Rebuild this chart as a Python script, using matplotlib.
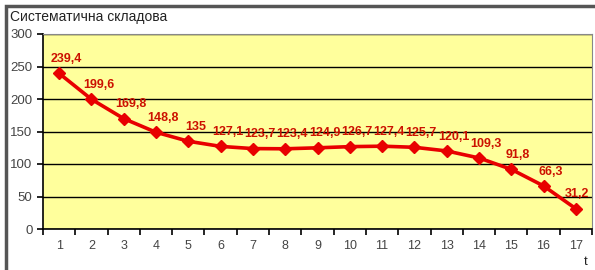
import numpy as np
import matplotlib.pyplot as plt
from matplotlib.patches import Rectangle

t = list(range(1, 18))
values = [239.4, 199.6, 169.8, 148.8, 135, 127.1, 123.7, 123.4, 124.9,
          126.7, 127.4, 125.7, 120.1, 109.3, 91.8, 66.3, 31.2]
labels = ["239,4", "199,6", "169,8", "148,8", "135", "127,1", "123,7", "123,4",
          "124,9", "126,7", "127,4", "125,7", "120,1", "109,3", "91,8", "66,3", "31,2"]
yticks = [0, 50, 100, 150, 200, 250, 300]

plt.rcParams['font.family'] = ['Liberation Sans', 'DejaVu Sans']

fig = plt.figure(figsize=(5.95, 2.7), dpi=100)
ax = fig.add_axes([43 / 595, 1 - 229 / 270, 549 / 595, 195 / 270])

# outer frame of the chart
fig.patches.append(Rectangle((6 / 595, -0.05), 2, 1.05 - 6 / 270, transform=fig.transFigure,
                             fill=False, edgecolor='#555555', linewidth=2.5))

ax.set_facecolor('#ffff9c')
ax.plot(t, values, color='#e80000', linewidth=2.6, marker='D', markersize=6, zorder=3)
for xi, yi, lab in zip(t, values, labels):
    dx = 5 if xi < 17 else 1
    ax.annotate(lab, (xi, yi), xytext=(dx, 6), textcoords='offset points',
                ha='center', va='bottom', color='#cc1100', fontsize=9, fontweight='bold',
                zorder=4)

ax.set_xlim(0.5, 17.5)
ax.set_ylim(0, 300)
ax.set_yticks(yticks)
ax.set_xticks(t)
ax.set_xticks(np.arange(0.5, 18, 1), minor=True)
ax.tick_params(axis='x', which='major', length=0, pad=8, labelsize=9, colors='#444444')
ax.tick_params(axis='x', which='minor', length=4, width=1.2, color='black')
ax.tick_params(axis='y', length=4, width=1.2, labelsize=9.5, colors='black', labelcolor='#444444')
ax.yaxis.grid(True, color='black', linewidth=1)
ax.set_axisbelow(True)
for side in ['top', 'right']:
    ax.spines[side].set_color('#888888')
for side in ['left', 'bottom']:
    ax.spines[side].set_color('black')
    ax.spines[side].set_linewidth(1.2)

fig.text(10 / 595, 1 - 17 / 270, 'Систематична складова', fontsize=10,
         ha='left', va='center', color='#222222')
fig.text(586 / 595, 1 - 262 / 270, 't', fontsize=9.5, ha='center', va='center', color='#222222')

fig.savefig('out.png', dpi=100)
